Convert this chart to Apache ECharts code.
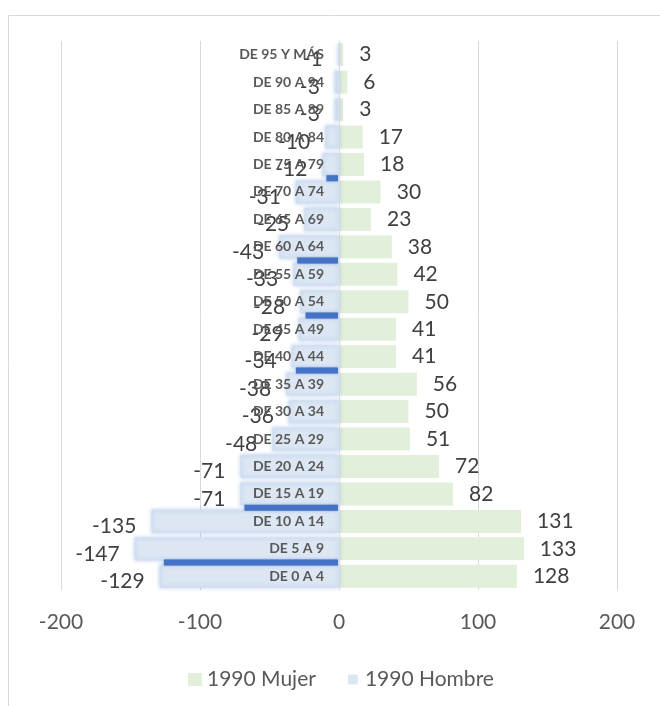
<!DOCTYPE html>
<html>
<head>
<meta charset="utf-8">
<script src="https://cdn.jsdelivr.net/npm/echarts@6/dist/echarts.min.js"></script>
<style>
  html, body { margin: 0; padding: 0; background: #fff; }
  #chart { width: 660px; height: 706px; }
</style>
</head>
<body>
<div id="chart"></div>
<script>
// age groups, top of the pyramid first
const categories = [
  'DE 95 Y MÁS', 'DE 90 A 94', 'DE 85 A 89', 'DE 80 A 84', 'DE 75 A 79',
  'DE 70 A 74', 'DE 65 A 69', 'DE 60 A 64', 'DE 55 A 59', 'DE 50 A 54',
  'DE 45 A 49', 'DE 40 A 44', 'DE 35 A 39', 'DE 30 A 34', 'DE 25 A 29',
  'DE 20 A 24', 'DE 15 A 19', 'DE 10 A 14', 'DE 5 A 9', 'DE 0 A 4'
]
const mujer = [3, 6, 3, 17, 18, 30, 23, 38, 42, 50, 41, 41, 56, 50, 51, 72, 82, 131, 133, 128]
const hombre = [-1, -3, -3, -10, -12, -31, -25, -43, -33, -28, -29, -34, -38, -36, -48, -71, -71, -135, -147, -129]
const xTicks = [-200, -100, 0, 100, 200]

// dark strokes that sit under some of the Hombre bars in the source
const rayaCat = ['DE 75 A 79', 'DE 60 A 64', 'DE 50 A 54', 'DE 40 A 44', 'DE 15 A 19', 'DE 5 A 9']
const rayaValor = [-9, -30, -24, -31, -68, -126]

const font = 'Lato'
const gridLeft = 61
const gridRight = 43
const chart = echarts.init(document.getElementById('chart'))

// move the category axis from the grid's left edge to x = 0
const plotW = 660 - gridLeft - gridRight
const zeroShift = plotW * (0 - xTicks[0]) / (xTicks[xTicks.length - 1] - xTicks[0])

chart.setOption({
  animation: false,
  textStyle: { fontFamily: font },
  graphic: [{
    type: 'rect',
    shape: { x: 8.5, y: 15.5, width: 700, height: 750 },
    style: { fill: 'none', stroke: '#d9d9d9', lineWidth: 1 },
    silent: true
  }],
  grid: {
    left: gridLeft, right: gridRight, top: 41, bottom: 116,
    containLabel: false, outerBoundsMode: 'none'
  },
  legend: {
    left: 183,
    top: 664,
    itemWidth: 14,
    itemHeight: 13,
    itemGap: 30,
    textStyle: { fontFamily: font, fontSize: 21, color: '#595959' },
    data: [
      { name: '1990 Mujer', icon: 'rect' },
      {
        name: '1990 Hombre',
        icon: 'path://M0,0M14,13M2,1.5h10v10h-10z',
        itemStyle: { borderWidth: 0 }
      }
    ]
  },
  xAxis: {
    type: 'value',
    min: xTicks[0],
    max: xTicks[xTicks.length - 1],
    interval: 100,
    axisLine: { show: false },
    axisTick: { show: false },
    splitLine: { lineStyle: { color: '#d9d9d9', width: 1 } },
    axisLabel: { fontFamily: font, fontSize: 21, color: '#595959', margin: 22 }
  },
  yAxis: {
    type: 'category',
    inverse: true,
    data: categories,
    z: 5,
    offset: -zeroShift,
    axisLine: { onZero: false, lineStyle: { color: '#d9d9d9', width: 1 } },
    axisTick: { show: false },
    axisLabel: {
      fontFamily: font, fontSize: 14, fontWeight: 'bold', color: '#595959', margin: 15
    }
  },
  series: [
    {
      name: '1990 Mujer',
      type: 'bar',
      data: mujer,
      barWidth: 23,
      barGap: '-100%',
      itemStyle: { color: '#e2efda' },
      label: {
        show: true, position: 'right', distance: 16,
        fontFamily: font, fontSize: 21, color: '#404040'
      }
    },
    {
      name: '1990 Hombre',
      type: 'bar',
      data: hombre,
      barWidth: 23,
      barGap: '-100%',
      itemStyle: {
        color: '#dde7f4',
        borderColor: '#d3e0f1',
        borderWidth: 1,
        shadowBlur: 4,
        shadowColor: 'rgba(91, 140, 210, 0.4)'
      },
      label: {
        show: true, position: 'left', distance: 15, offset: [0, 5],
        fontFamily: font, fontSize: 21, color: '#404040'
      }
    },
    {
      type: 'custom',
      silent: true,
      z: 3,
      encode: { x: 0, y: 1 },
      data: rayaValor.map((v, i) => [v, rayaCat[i]]),
      renderItem(params, api) {
        const cat = api.value(1)
        const end = api.coord([api.value(0), cat])
        const start = api.coord([0, cat])
        const band = api.size([0, 1])[1]
        const y = end[1] + band / 2
        return {
          type: 'rect',
          shape: { x: end[0], y: y - 3, width: start[0] - end[0] - 1, height: 6 },
          style: { fill: '#4472c4', shadowBlur: 2, shadowColor: 'rgba(68,114,196,0.6)' }
        }
      }
    }
  ]
})
</script>
</body>
</html>
